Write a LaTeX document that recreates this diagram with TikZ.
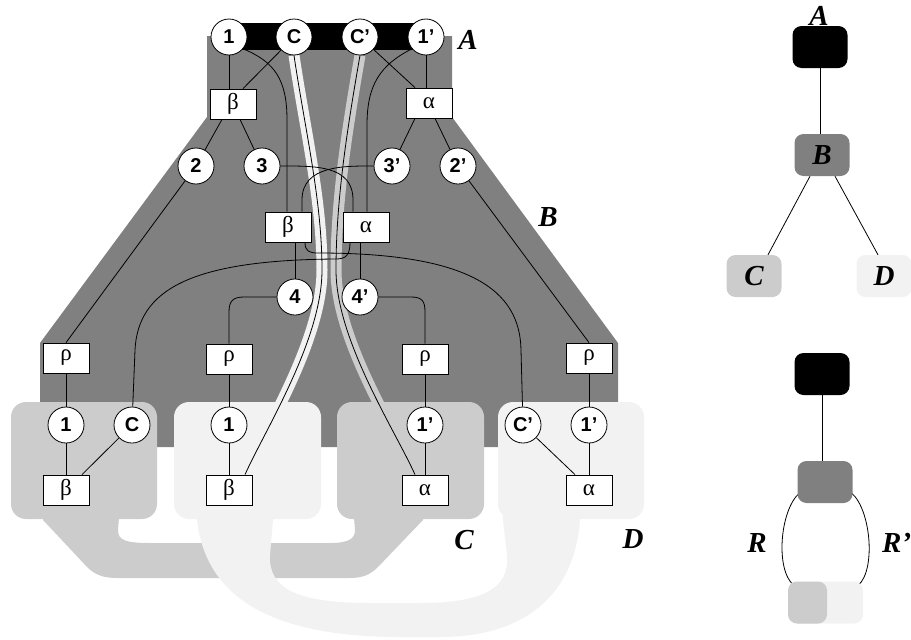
\documentclass[tikz,border=0pt]{standalone}
\usepackage{fontspec}
\setmainfont{Liberation Serif}
\newfontfamily\arialf{Liberation Sans}
\definecolor{dg}{HTML}{808080}
\definecolor{lg}{HTML}{CCCCCC}
\definecolor{vl}{HTML}{F2F2F2}
\pgfdeclarelayer{bg}
\pgfsetlayers{bg,main}
\newcommand{\strandCpath}{(nC.south) .. controls (305,130) and (322,200) .. (322,270) .. controls (322,340) and (265,430) .. ([xshift=16pt]bb2.north)}
\newcommand{\strandCppath}{(nCp.south) .. controls (347,130) and (336,200) .. (336,270) .. controls (336,340) and (395,430) .. ([xshift=-10pt]ab1.north)}
\begin{document}
\begin{tikzpicture}[x=1pt,y=-1pt,
  circ/.style={circle, draw=black, fill=white, line width=0.8pt, minimum size=36pt, inner sep=0pt, font=\arialf\bfseries\fontsize{20}{20}\selectfont},
  gbox/.style={rectangle, draw=black, fill=white, line width=0.8pt, minimum width=46pt, minimum height=30pt, inner sep=0pt, font=\fontsize{23}{23}\selectfont},
  lab/.style={inner sep=0pt, font=\bfseries\itshape\fontsize{29}{29}\selectfont},
  tbox/.style={rectangle, rounded corners=9pt, minimum width=55pt, minimum height=42pt, inner sep=0pt, font=\bfseries\itshape\fontsize{29}{29}\selectfont},
  wire/.style={line width=0.8pt},
  band/.style={line width=11pt}]
\useasboundingbox (0,0) rectangle (911,640);

% ---- nodes of the big diagram ----
\node[circ] (n1) at (229,37) {1};
\node[circ] (nC) at (294,37) {C};
\node[circ] (nCp) at (360,37) {C’};
\node[circ] (n1p) at (426,37) {1’};
\node[gbox] (bB1) at (233,104) {β};
\node[gbox] (aA1) at (429,103) {α};
\node[circ] (n2) at (196,166) {2};
\node[circ] (n3) at (262,166) {3};
\node[circ] (n3p) at (392,166) {3’};
\node[circ] (n2p) at (458,166) {2’};
\node[gbox] (bB2) at (288,227) {β};
\node[gbox] (aA2) at (366,227) {α};
\node[circ] (n4) at (295,297) {4};
\node[circ] (n4p) at (360,297) {4’};
\node[gbox] (r1) at (66,358) {ρ};
\node[gbox] (r2) at (229,359) {ρ};
\node[gbox] (r3) at (425,359) {ρ};
\node[gbox] (r4) at (589,358) {ρ};
\node[circ] (m1) at (66,425) {1};
\node[circ] (mC) at (132,425) {C};
\node[circ] (m1b) at (229,425) {1};
\node[circ] (m1p) at (425,425) {1’};
\node[circ] (mCp) at (523,425) {C’};
\node[circ] (m1pb) at (589,425) {1’};
\node[gbox] (bb1) at (66,490) {β};
\node[gbox] (bb2) at (229,490) {β};
\node[gbox] (ab1) at (425,490) {α};
\node[gbox] (ab2) at (589,490) {α};

\node[lab] (lA) at (468,40) {A};
\node[lab] (lB) at (548,217) {B};
\node[lab] (lC) at (464,540) {C};
\node[lab] (lD) at (633,539) {D};

% ---- small trees on the right ----
\node[tbox, fill=black] (tA) at (820,47) {};
\node[lab] (tAl) at (819,16) {A};
\node[tbox, fill=dg] (tB) at (822,155) {B};
\node[tbox, fill=lg] (tC) at (754,276) {C};
\node[tbox, fill=vl] (tD) at (884,276) {D};

\node[tbox, fill=black] (uA) at (822,374) {};
\node[tbox, fill=dg] (uB) at (825,482) {};
\node[tbox, minimum width=75pt, fill=vl,
  path picture={\fill[lg] (path picture bounding box.south west) rectangle ([xshift=39pt]path picture bounding box.north west);}] (uS) at (825.5,602.5) {};
\node[lab] (uR) at (757,543) {R};
\node[lab, anchor=west] (uRp) at (882,543) {R’};

\begin{pgfonlayer}{bg}
  % region B
  \fill[dg] (207,36) -- (452,36) -- (452,117) -- (618,343) -- (618,447) -- (40,447) -- (40,343) -- (207,117) -- cycle;
  % region A
  \fill[black] (229,23) rectangle (426,50);
  % band of C
  \fill[lg] (43,505) -- (120,505) -- (118,530) .. controls (118,540) and (125,543) .. (150,543) -- (330,543) .. controls (350,543) and (355,538) .. (355,530) -- (353,505) -- (423,505) -- (423,520) -- (378,567) .. controls (370,575) and (362,578) .. (350,578) -- (118,578) .. controls (105,578) and (97,576) .. (88,568) -- (43,520) -- cycle;
  % band of D
  \fill[vl] (197,505) -- (273,505) -- (273,520) -- (270,555) .. controls (268,590) and (300,603) .. (370,603) -- (420,603) .. controls (480,603) and (510,590) .. (507,555) -- (503,520) -- (503,505) -- (580,505) -- (580,520) .. controls (575,590) and (530,637) .. (440,637) -- (400,637) .. controls (260,637) and (205,590) .. (197,520) -- cycle;
  % boxes of C and D
  \fill[lg, rounded corners=15pt] (11,402) rectangle (157,519);
  \fill[vl, rounded corners=15pt] (174,402) rectangle (321,519);
  \fill[lg, rounded corners=15pt] (337,402) rectangle (484,519);
  \fill[vl, rounded corners=15pt] (498,402) rectangle (644,519);
  % strands
  \draw[band, vl] \strandCpath;
  \draw[band, lg] \strandCppath;
  % tree lines
  \draw[wire] (tA.south) -- (tA.south |- tB.north);
  \draw[wire] ([xshift=-12pt]tB.south) -- ([xshift=14pt]tC.north);
  \draw[wire] ([xshift=13pt]tB.south) -- ([xshift=-6pt]tD.north);
  \draw[wire] (uA.south) -- (uA.south |- uB.north);
  \draw[wire] ([shift={(2,-10)}]uB.south west) .. controls (780,510) and (775,570) .. ([shift={(6,4)}]uS.north west);
  \draw[wire] ([shift={(-1,-10)}]uB.south east) .. controls (871,510) and (876,570) .. ([shift={(-5,4)}]uS.north east);
\end{pgfonlayer}

% ---- wires ----
\draw[wire] \strandCpath;
\draw[wire] \strandCppath;
\draw[wire] (n1) -- (n1 |- bB1.north);
\draw[wire] (nC) -- ([xshift=10pt]bB1.north);
\draw[wire] (n1.-40) .. controls (275,62) and (287,80) .. (287,120) -- ([xshift=-1pt]bB2.north);
\draw[wire] (n1p) -- (n1p |- aA1.north);
\draw[wire] (nCp) -- ([xshift=-14pt]aA1.north);
\draw[wire] (n1p.-140) .. controls (380,65) and (367,85) .. (367,125) -- ([xshift=1pt]aA2.north);
\draw[wire] ([xshift=-11pt]bB1.south) -- (n2);
\draw[wire] ([xshift=7pt]bB1.south) -- (n3);
\draw[wire] ([xshift=-14pt]aA1.south) -- (n3p);
\draw[wire] ([xshift=6pt]aA1.south) -- (n2p);
\draw[wire] (n3.east) .. controls (315,166) and (353,165) .. (353,200) -- ([xshift=-13pt]aA2.north);
\draw[wire] (n3p.west) .. controls (345,166) and (302,165) .. (302,200) -- ([xshift=14pt]bB2.north);
\draw[wire] ([xshift=17pt]bB2.south) .. controls (305,251) and (309,253) .. (318,253) .. controls (470,253) and (520,290) .. (521,350) -- (mCp);
\draw[wire] ([xshift=-16pt]aA2.south) .. controls (350,255) and (346,259) .. (336,259) .. controls (190,260) and (138,290) .. (135,350) -- (mC);
\draw[wire] ([xshift=7pt]bB2.south) -- (n4);
\draw[wire] ([xshift=-6pt]aA2.south) -- (n4p);
\draw[wire] (n4.west) -- (244,297) .. controls (233,297) and (229,301) .. (229,312) -- (r2.north);
\draw[wire] (n4p.east) -- (411,297) .. controls (422,297) and (425,301) .. (425,312) -- (r3.north);
\draw[wire] (n2) -- (r1.north);
\draw[wire] (n2p) -- (r4.north);
\draw[wire] (r1) -- (m1);
\draw[wire] (m1) -- (bb1);
\draw[wire] (mC) -- ([xshift=16pt]bb1.north);
\draw[wire] (r2) -- (m1b);
\draw[wire] (m1b) -- (bb2);
\draw[wire] (r3) -- (m1p);
\draw[wire] (m1p) -- (ab1);
\draw[wire] (r4) -- (m1pb);
\draw[wire] (m1pb) -- (ab2);
\draw[wire] (mCp) -- ([xshift=-14pt]ab2.north);
\end{tikzpicture}
\end{document}
